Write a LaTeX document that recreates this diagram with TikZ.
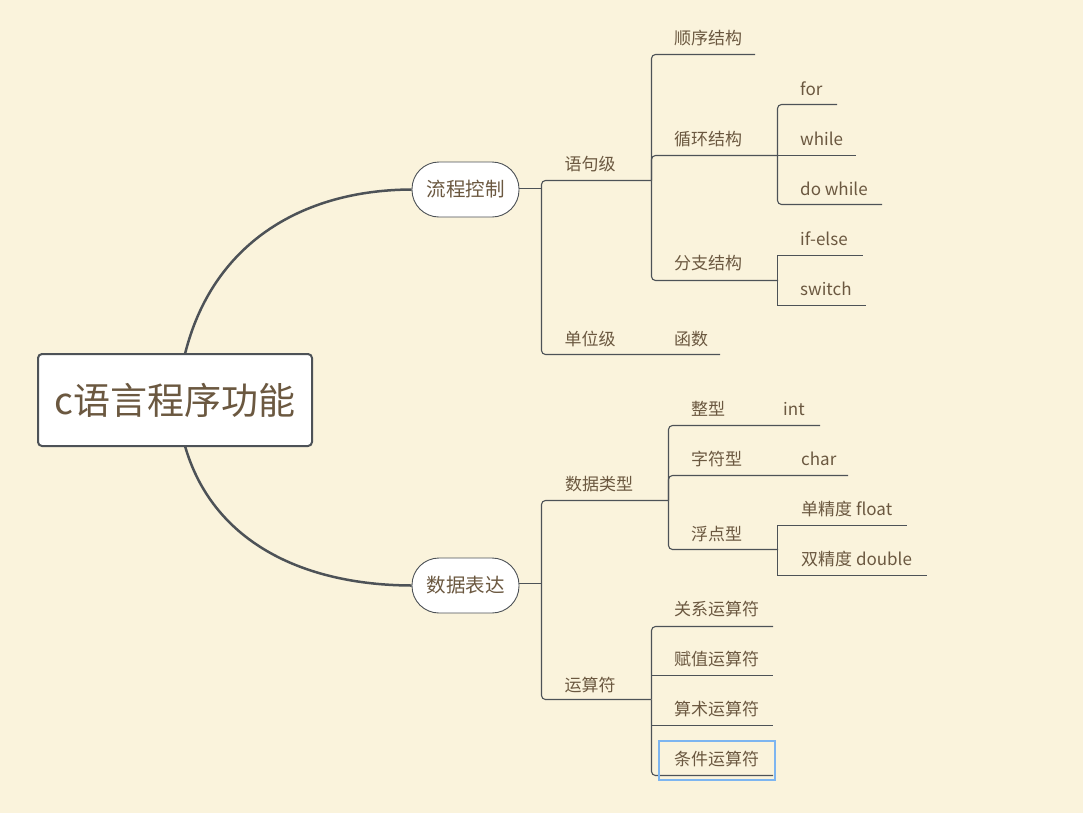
\documentclass[tikz,border=0pt]{standalone}
\usepackage{fontspec}
\setmainfont{Noto Sans CJK SC}
\definecolor{bg}{HTML}{FAF3DC}
\definecolor{txt}{HTML}{6B5840}
\definecolor{ln}{HTML}{4D5257}
\definecolor{sel}{HTML}{7DB5F0}
\tikzset{
  lbl/.style={text=txt, inner sep=0pt, font=\fontsize{17}{20}\selectfont},
  lblw/.style={lbl, anchor=west},
  branch/.style={draw=ln, line width=1.1pt},
  rbranch/.style={branch, rounded corners=4pt},
  curve/.style={draw=ln, line width=2.5pt},
  pill/.style={draw=ln, line width=0.9pt, fill=white, rounded corners=27pt,
    minimum width=107pt, minimum height=55pt, text=txt, font=\fontsize{19.5}{22}\selectfont, inner sep=0pt},
  rootbox/.style={draw=ln, line width=2pt, fill=white, rounded corners=4pt,
    minimum width=274pt, minimum height=92pt, text=txt, font=\fontsize{37}{40}\selectfont, inner sep=0pt},
}
\begin{document}
\begin{tikzpicture}[x=1pt,y=-1pt]
\useasboundingbox (0,0) rectangle (1083,812);
\fill[bg] (-10,-10) rectangle (1093,822);

% root and main topics
\node[rootbox] (root) at (175,400) {c语言程序功能};
\node[pill] (flow) at (465.5,189.5) {流程控制};
\node[pill] (data) at (465.5,585.5) {数据表达};

\coordinate (rootT) at (185,354);
\coordinate (rootB) at (185,446);
\draw[curve] (rootT) .. controls (212,245) and (300,190) .. (flow.west);
\draw[curve] (rootB) .. controls (212,540) and (300,585) .. (data.west);

% ---------- 流程控制 ----------
\coordinate (fJ) at (541.5,188.5);
\draw[branch] (flow.east |- fJ) -- (fJ);
\coordinate (yujuE) at (651,180.5);
\coordinate (danweiE) at (720,354.5);
\draw[rbranch] (fJ) |- (yujuE);
\draw[rbranch] (fJ) |- (danweiE);
\node[lbl] (yuju) at (590,164) {语句级};
\node[lbl] (danwei) at (590,339) {单位级};
\node[lblw] (hanshu) at (674,339) {函数};

% level 3 under 语句级
\coordinate (sJ) at (651.5,180.5);
\coordinate (shunxuE) at (755,54.5);
\coordinate (xunhuanE) at (778,155.5);
\coordinate (fenzhiE) at (778,280.5);
\draw[rbranch] (sJ) |- (shunxuE);
\draw[rbranch] (sJ) |- (xunhuanE);
\draw[rbranch] (sJ) |- (fenzhiE);
\node[lblw] (shunxu) at (674,38) {顺序结构};
\node[lblw] (xunhuan) at (674,139) {循环结构};
\node[lblw] (fenzhi) at (674,263) {分支结构};

% loops
\coordinate (lJ) at (777.5,155.5);
\coordinate (forE) at (837,104.5);
\coordinate (whileE) at (856,155.5);
\coordinate (dowhileE) at (882,204.5);
\draw[rbranch] (lJ) |- (forE);
\draw[branch] (lJ) -- (whileE);
\draw[rbranch] (lJ) |- (dowhileE);
\node[lblw] (for) at (800,89) {for};
\node[lblw] (while) at (800,139) {while};
\node[lblw] (dowhile) at (800,189) {do while};

% branches
\coordinate (bJ) at (777.5,280.5);
\coordinate (ifE) at (863,255.5);
\coordinate (swE) at (866,305.5);
\draw[branch] (bJ) |- (ifE);
\draw[branch] (bJ) |- (swE);
\node[lblw] (ifelse) at (800,239) {if-else};
\node[lblw] (switch) at (800,289) {switch};

% ---------- 数据表达 ----------
\coordinate (dJ) at (541.5,583.5);
\draw[branch] (data.east |- dJ) -- (dJ);
\coordinate (typeE) at (668,500.5);
\coordinate (opE) at (651,699.5);
\draw[rbranch] (dJ) |- (typeE);
\draw[rbranch] (dJ) |- (opE);
\node[lbl] (type) at (599,484) {数据类型};
\node[lbl] (op) at (590,685) {运算符};

% data types
\coordinate (tJ) at (668.5,500.5);
\coordinate (intE) at (820,425.5);
\coordinate (charE) at (848,475.5);
\coordinate (floatE) at (778,549.5);
\draw[rbranch] (tJ) |- (intE);
\draw[rbranch] (tJ) |- (charE);
\draw[rbranch] (tJ) |- (floatE);
\node[lblw] (zheng) at (691,409) {整型};
\node[lblw] (int) at (783,409) {int};
\node[lblw] (zifu) at (691,459) {字符型};
\node[lblw] (char) at (801,459) {char};
\node[lblw] (fudian) at (691,534) {浮点型};

\coordinate (fJ2) at (777.5,549.5);
\coordinate (sgE) at (907,525.5);
\coordinate (dbE) at (927,575.5);
\draw[branch] (fJ2) |- (sgE);
\draw[branch] (fJ2) |- (dbE);
\node[lblw] (single) at (801,509) {单精度 float};
\node[lblw] (double) at (801,559) {双精度 double};

% operators
\coordinate (oJ) at (651.5,699.5);
\coordinate (guanxiE) at (773,626.5);
\coordinate (fuzhiE) at (773,675.5);
\coordinate (suanshuE) at (773,725.5);
\coordinate (tiaojianE) at (773,775.5);
\draw[rbranch] (oJ) |- (guanxiE);
\draw[branch] (oJ |- fuzhiE) -- (fuzhiE);
\draw[branch] (oJ) |- (suanshuE);
\draw[rbranch] (oJ) |- (tiaojianE);
\node[lblw] (guanxi) at (674,609) {关系运算符};
\node[lblw] (fuzhi) at (674,659) {赋值运算符};
\node[lblw] (suanshu) at (674,709) {算术运算符};
\node[lblw] (tiaojian) at (674,759) {条件运算符};
\draw[sel, line width=2pt] (659,741) rectangle (775,780);
\end{tikzpicture}
\end{document}
